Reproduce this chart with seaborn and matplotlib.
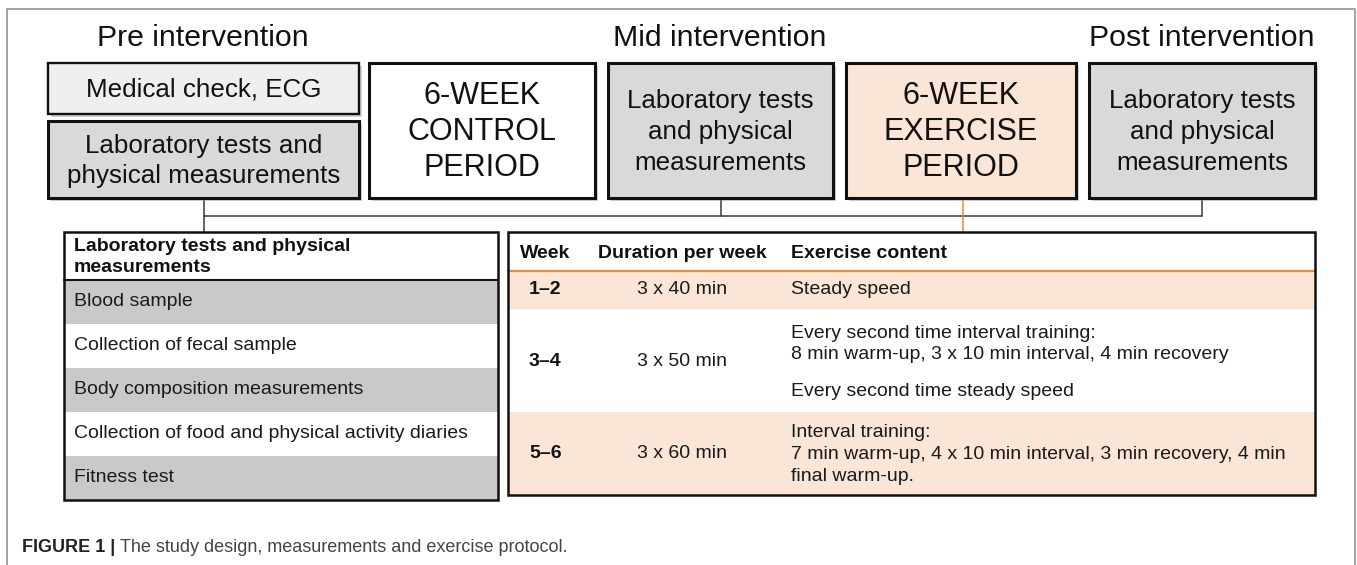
import matplotlib
matplotlib.use("Agg")
import matplotlib.pyplot as plt
from matplotlib.patches import Rectangle
from matplotlib import font_manager
import seaborn as sns

# Texts of the study design figure
phase_titles = ["Pre intervention", "Mid intervention", "Post intervention"]
medical_label = "Medical check, ECG"
lab_label_wide = "Laboratory tests and\nphysical measurements"
lab_label = "Laboratory tests\nand physical\nmeasurements"
control_label = "6-WEEK\nCONTROL\nPERIOD"
exercise_label = "6-WEEK\nEXERCISE\nPERIOD"

# Left table: measurements
measure_title = "Laboratory tests and physical\nmeasurements"
measure_items = [
    "Blood sample",
    "Collection of fecal sample",
    "Body composition measurements",
    "Collection of food and physical activity diaries",
    "Fitness test",
]

# Right table: exercise protocol
protocol_header = ["Week", "Duration per week", "Exercise content"]
weeks = ["1–2", "3–4", "5–6"]
durations = ["3 x 40 min", "3 x 50 min", "3 x 60 min"]
contents = [
    ["Steady speed"],
    ["Every second time interval training:\n8 min warm-up, 3 x 10 min interval, 4 min recovery",
     "Every second time steady speed"],
    ["Interval training:\n7 min warm-up, 4 x 10 min interval, 3 min recovery, 4 min\nfinal warm-up."],
]

caption_bold = "FIGURE 1 |"
caption_text = "The study design, measurements and exercise protocol."

# colours
GRAY_BOX = "#d9d9d9"
LIGHT_BOX = "#efefef"
PEACH = "#fbe5d6"
ROW_GRAY = "#c9c9c9"
ORANGE = "#f08a35"
LINE = "#3a3a3a"

sns.set_theme(style="white")
plt.rcParams["font.family"] = ["Liberation Sans", "DejaVu Sans"]

names = {f.name for f in font_manager.fontManager.ttflist}
if "Liberation Sans Narrow" in names:
    cap_family, cap_size = ["Liberation Sans Narrow", "Liberation Sans"], 15.5
else:
    cap_family, cap_size = ["Liberation Sans", "DejaVu Sans"], 13

W, H = 1357, 565
fig = plt.figure(figsize=(W / 100, H / 100), dpi=100)
ax = fig.add_axes([0, 0, 1, 1])
ax.set_xlim(0, W)
ax.set_ylim(H, 0)
ax.axis("off")

# outer frame (open at the bottom)
ax.plot([7, 7, 1355, 1355], [H, 9, 9, H], color="#8a8a8a", lw=1.1, zorder=1)


def box(x0, x1, y0, y1, fc, lw=2.2, shadow=True):
    if shadow:
        ax.add_patch(Rectangle((x0 + 2.5, y0 + 2.5), x1 - x0, y1 - y0,
                               fc="#9a9a9a", ec="none", alpha=0.45, zorder=2))
    ax.add_patch(Rectangle((x0, y0), x1 - x0, y1 - y0, fc=fc, ec="#111111",
                           lw=lw, zorder=3))


# phase titles
title_x = [203, 720, 1202]
for tx, t in zip(title_x, phase_titles):
    ax.text(tx, 38, t, ha="center", va="center", fontsize=21.8, color="#111111")

# top row of boxes
box(48, 359, 63, 114, LIGHT_BOX, lw=1.7)
ax.text(203.5, 89, medical_label, ha="center", va="center", fontsize=18.7, color="#111111", zorder=4)
box(48, 359, 121, 198, GRAY_BOX)
ax.text(203.5, 161, lab_label_wide, ha="center", va="center", fontsize=18.7,
        linespacing=1.36, color="#111111", zorder=4)

top_boxes = [
    (369, 595, "white", control_label, 22, 1.24),
    (608, 833, GRAY_BOX, lab_label, 18.7, 1.36),
    (846, 1076, PEACH, exercise_label, 22, 1.24),
    (1089, 1315, GRAY_BOX, lab_label, 18.7, 1.36),
]
for x0, x1, fc, lab, fs, ls in top_boxes:
    box(x0, x1, 63, 198, fc)
    ax.text((x0 + x1) / 2, 132, lab, ha="center", va="center", fontsize=fs,
            linespacing=ls, color="#111111", zorder=4)

# connector lines
ax.plot([204, 204], [198, 232], color=LINE, lw=1.1, zorder=1)
ax.plot([204, 1202], [216, 216], color=LINE, lw=1.1, zorder=1)
ax.plot([721, 721], [198, 216], color=LINE, lw=1.1, zorder=1)
ax.plot([1202, 1202], [198, 216], color=LINE, lw=1.1, zorder=1)
ax.plot([963, 963], [198, 232], color=ORANGE, lw=1.1, zorder=1)

# left table
lx0, lx1, ly0, lhead, rowh = 64, 498, 232, 280, 44
ax.add_patch(Rectangle((lx0, ly0), lx1 - lx0, lhead - ly0, fc="white", ec="none", zorder=2))
ax.text(74, 257, measure_title, ha="left", va="center", fontsize=14, fontweight="bold",
        linespacing=1.38, color="#111111", zorder=4)
for i, item in enumerate(measure_items):
    y0 = lhead + i * rowh
    ax.add_patch(Rectangle((lx0, y0), lx1 - lx0, rowh,
                           fc=ROW_GRAY if i % 2 == 0 else "white", ec="none", zorder=2))
    ax.text(74, y0 + rowh / 2, item, ha="left", va="center", fontsize=14,
            color="#1a1a1a", zorder=4)
ly1 = lhead + rowh * len(measure_items)
ax.plot([lx0, lx1], [lhead, lhead], color="#111111", lw=1.5, zorder=4)
ax.add_patch(Rectangle((lx0, ly0), lx1 - lx0, ly1 - ly0, fc="none", ec="#111111",
                       lw=1.8, zorder=5))

# right table
rx0, rx1, ry0, rhead = 508, 1315, 232, 271
row_edges = [271, 309, 412, 495]
col_week, col_dur, col_cont = 529, 682, 791
ax.add_patch(Rectangle((rx0, ry0), rx1 - rx0, rhead - ry0, fc="white", ec="none", zorder=2))
ax.text(520, 253, protocol_header[0], ha="left", va="center", fontsize=14,
        fontweight="bold", color="#111111", zorder=4)
ax.text(col_dur, 253, protocol_header[1], ha="center", va="center", fontsize=14,
        fontweight="bold", color="#111111", zorder=4)
ax.text(col_cont, 253, protocol_header[2], ha="left", va="center", fontsize=14,
        fontweight="bold", color="#111111", zorder=4)

# vertical position of each content block inside its row
content_y = [[290], [344, 392], [454.5]]
week_y = [290, 361, 454]
for i in range(len(weeks)):
    y0, y1 = row_edges[i], row_edges[i + 1]
    ax.add_patch(Rectangle((rx0, y0), rx1 - rx0, y1 - y0,
                           fc=PEACH if i % 2 == 0 else "white", ec="none", zorder=2))
    ax.text(col_week, week_y[i], weeks[i], ha="left", va="center", fontsize=14,
            fontweight="bold", color="#111111", zorder=4)
    ax.text(col_dur, week_y[i], durations[i], ha="center", va="center", fontsize=14,
            color="#1a1a1a", zorder=4)
    for cy, txt in zip(content_y[i], contents[i]):
        ax.text(col_cont, cy, txt, ha="left", va="center", fontsize=14,
                linespacing=1.38, color="#1a1a1a", zorder=4)
ax.plot([rx0, rx1], [rhead, rhead], color=ORANGE, lw=1.6, zorder=4)
ax.add_patch(Rectangle((rx0, ry0), rx1 - rx0, row_edges[-1] - ry0, fc="none",
                       ec="#111111", lw=1.8, zorder=5))

# caption
t1 = ax.text(22, 548, caption_bold, ha="left", va="center", fontsize=cap_size,
             fontweight="bold", family=cap_family, color="#222222")
renderer = fig.canvas.get_renderer()
bb = t1.get_window_extent(renderer=renderer)
x_end = ax.transData.inverted().transform((bb.x1, bb.y0))[0]
ax.text(x_end + 5, 548, caption_text, ha="left", va="center", fontsize=cap_size,
        family=cap_family, color="#444444")

fig.savefig("out.png", dpi=100)
